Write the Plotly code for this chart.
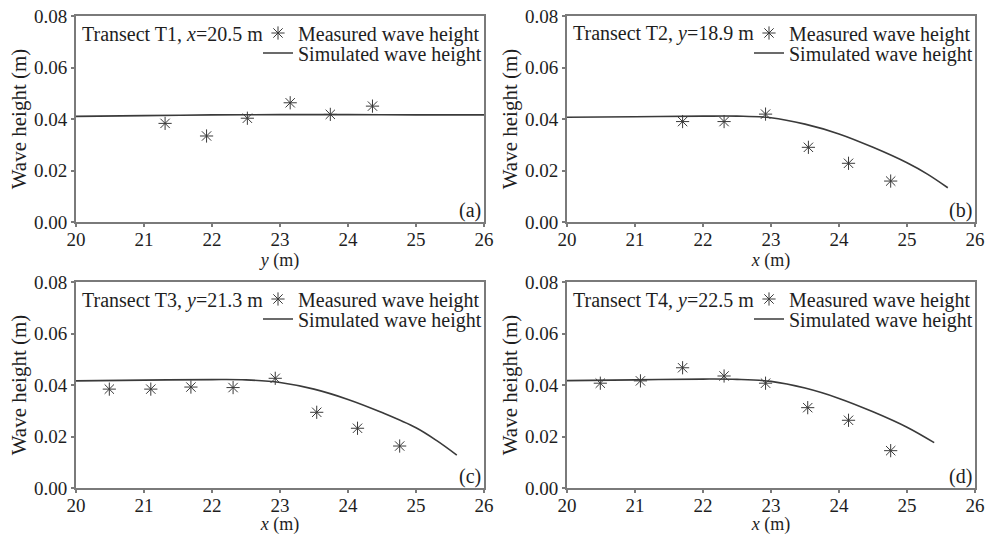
import plotly.graph_objects as go

# ---- data ----
meas_x_a = [21.31, 21.92, 22.52, 23.15, 23.74, 24.36]
meas_y_a = [0.0383, 0.0334, 0.0403, 0.0463, 0.0418, 0.0450]
sim_x_a = [20, 21, 22, 23, 24, 25, 26]
sim_y_a = [0.0410, 0.0413, 0.0416, 0.0417, 0.0417, 0.0416, 0.0416]

meas_x_b = [21.70, 22.31, 22.92, 23.55, 24.14, 24.76]
meas_y_b = [0.0390, 0.0390, 0.0419, 0.0290, 0.0228, 0.0159]
sim_x_b = [20, 21, 22, 22.5, 23, 23.5, 24, 24.5, 25, 25.3, 25.6]
sim_y_b = [0.0407, 0.0409, 0.0411, 0.0411, 0.0405, 0.0380, 0.0342, 0.0290, 0.0230, 0.0186, 0.0133]

meas_x_c = [20.49, 21.10, 21.69, 22.31, 22.93, 23.54, 24.14, 24.76]
meas_y_c = [0.0384, 0.0384, 0.0392, 0.0390, 0.0426, 0.0294, 0.0232, 0.0163]
sim_x_c = [20, 21, 22, 22.5, 23, 23.5, 24, 24.5, 25, 25.3, 25.6]
sim_y_c = [0.0416, 0.0419, 0.0421, 0.0420, 0.0410, 0.0384, 0.0344, 0.0293, 0.0234, 0.0185, 0.0128]

meas_x_d = [20.49, 21.08, 21.70, 22.31, 22.92, 23.54, 24.14, 24.76]
meas_y_d = [0.0407, 0.0416, 0.0467, 0.0435, 0.0407, 0.0312, 0.0263, 0.0145]
sim_x_d = [20, 21, 22, 22.5, 23, 23.5, 24, 24.5, 25, 25.4]
sim_y_d = [0.0417, 0.0420, 0.0423, 0.0422, 0.0414, 0.0388, 0.0348, 0.0296, 0.0236, 0.0176]

panel_titles = ["Transect T1, <i>x</i>=20.5 m", "Transect T2, <i>y</i>=18.9 m",
                "Transect T3, <i>y</i>=21.3 m", "Transect T4, <i>y</i>=22.5 m"]
panel_tags = ["(a)", "(b)", "(c)", "(d)"]
x_titles = ["<i>y</i> (m)", "<i>x</i> (m)", "<i>x</i> (m)", "<i>x</i> (m)"]
y_title = "Wave height (m)"
meas_name = "Measured wave height"
sim_name = "Simulated wave height"

FONT = "Times New Roman, Liberation Serif, serif"
FS = 19
FL = 20
TXT = "#1e1e1e"
AXC = "#7a7a7a"
LC = "#3a3a3a"

W, H = 987, 535
ml, mr, mt, mb = 76, 12, 16, 47
pw = W - ml - mr
ph = H - mt - mb


def px2x(p):
    return (p - ml) / pw


def px2y(p):
    return 1 - (p - mt) / ph


panels = [
    (meas_x_a, meas_y_a, sim_x_a, sim_y_a),
    (meas_x_b, meas_y_b, sim_x_b, sim_y_b),
    (meas_x_c, meas_y_c, sim_x_c, sim_y_c),
    (meas_x_d, meas_y_d, sim_x_d, sim_y_d),
]
boxes = [(76, 484, 16, 222), (567, 975, 16, 222), (76, 484, 282, 488), (567, 975, 282, 488)]

fig = go.Figure()
layout = dict(
    width=W, height=H, margin=dict(l=ml, r=mr, t=mt, b=mb, autoexpand=False),
    paper_bgcolor="white", plot_bgcolor="white",
    font=dict(family=FONT, size=FS, color=TXT),
    showlegend=True,
)
annotations = []
for i, ((mx, my, sx, sy), (x0, x1, y0, y1)) in enumerate(zip(panels, boxes)):
    n = i + 1
    xa = "x" if n == 1 else f"x{n}"
    ya = "y" if n == 1 else f"y{n}"
    lg1 = "legend" if n == 1 else f"legend{2 * n - 1}"
    lg2 = f"legend{2 * n}"
    fig.add_trace(go.Scatter(
        x=mx, y=my, mode="markers", name=meas_name, xaxis=xa, yaxis=ya, legend=lg1,
        marker=dict(symbol="asterisk-open", size=11, color=LC, line=dict(width=1.0, color=LC)),
    ))
    fig.add_trace(go.Scatter(
        x=sx, y=sy, mode="lines", name=sim_name, xaxis=xa, yaxis=ya, legend=lg2,
        line=dict(color=LC, width=1.6, shape="spline", smoothing=1.0),
    ))
    axkey_x = "xaxis" if n == 1 else f"xaxis{n}"
    axkey_y = "yaxis" if n == 1 else f"yaxis{n}"
    layout[axkey_x] = dict(
        domain=[px2x(x0), px2x(x1)], anchor=ya, range=[20, 26], dtick=1, tick0=20,
        showline=True, linecolor=AXC, linewidth=2, mirror=True,
        ticks="outside", ticklen=3, tickcolor=AXC, tickwidth=1.5,
        ticklabelstandoff=-4,
        showgrid=False, zeroline=False,
        title=dict(text=x_titles[i], standoff=0, font=dict(size=18)),
        tickfont=dict(size=FS),
    )
    layout[axkey_y] = dict(
        domain=[px2y(y1), px2y(y0)], anchor=xa, range=[0, 0.08], dtick=0.02, tick0=0,
        tickformat=".2f",
        showline=True, linecolor=AXC, linewidth=2, mirror=True,
        ticks="outside", ticklen=3, tickcolor=AXC, tickwidth=1.5,
        showgrid=False, zeroline=False,
        title=dict(text=y_title, standoff=2, font=dict(size=21)),
        tickfont=dict(size=FS),
    )
    for lg, row in ((lg1, 17), (lg2, 37)):
        layout[lg] = dict(
            x=px2x(x0 + 182), y=px2y(y0 + row), xanchor="left", yanchor="middle",
            bgcolor="rgba(0,0,0,0)", borderwidth=0,
            font=dict(family=FONT, size=FL, color=TXT),
            itemwidth=30,
        )
    annotations.append(dict(
        text=panel_titles[i], xref=f"{xa} domain", yref=f"{ya} domain",
        x=0.01, y=1 - 18 / 206, xanchor="left", yanchor="middle", showarrow=False,
        font=dict(family=FONT, size=FL, color=TXT),
    ))
    annotations.append(dict(
        text=panel_tags[i], xref=f"{xa} domain", yref=f"{ya} domain",
        x=0.997, y=11.5 / 206, xanchor="right", yanchor="middle", showarrow=False,
        font=dict(family=FONT, size=FL, color=TXT),
    ))
layout["annotations"] = annotations
fig.update_layout(**layout)
fig.write_html("out.html")
